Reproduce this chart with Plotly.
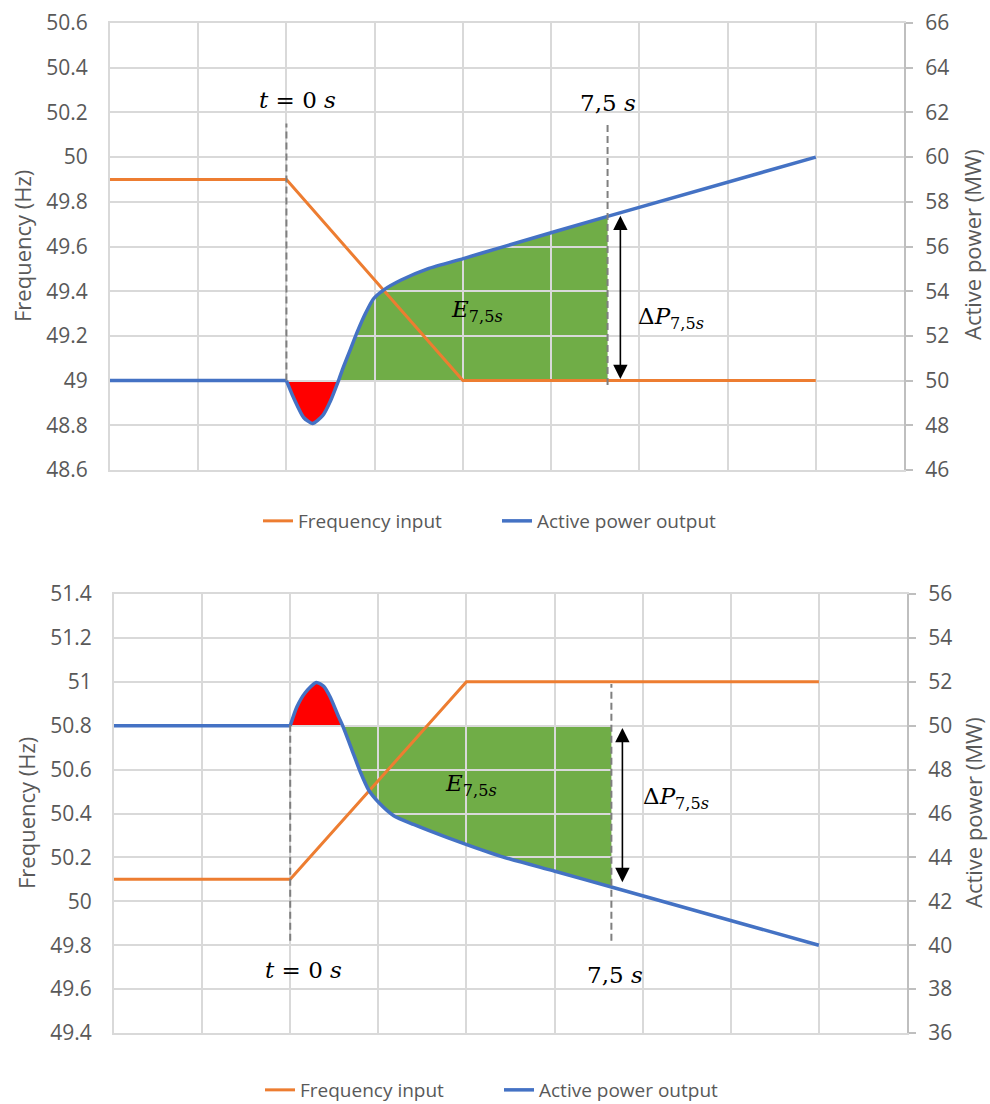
import plotly.graph_objects as go

# ---------------- data ----------------
# time in seconds (t = 0 at the disturbance), one grid interval = 2 s
freq_time = [-4, 0, 4, 12]
top_freq = [49.9, 49.9, 49.0, 49.0]          # Hz, under-frequency case
bot_freq = [50.1, 50.1, 51.0, 51.0]          # Hz, over-frequency case

top_time = [-4, 0, 0.16, 0.39, 0.59, 0.82, 1.0, 1.18, 1.29, 1.45, 1.61, 1.79, 1.97, 2.2, 2.6, 3.2, 4.01, 4.85, 7.28, 12]
top_power = [50, 50, 49.24, 48.35, 48.08, 48.43, 49.1, 50.0, 50.6, 51.4, 52.2, 53.0, 53.65, 54.05, 54.5, 55.0, 55.46, 55.95, 57.35, 60]

bot_time = [-4, 0, 0.15, 0.34, 0.59, 0.76, 0.91, 1.1, 1.19, 1.4, 1.59, 1.78, 2.01, 2.35, 2.8, 3.57, 4.78, 5.99, 7.29, 12]
bot_power = [50, 50, 50.85, 51.5, 51.97, 51.8, 51.3, 50.4, 50.0, 48.9, 47.9, 47.07, 46.5, 45.9, 45.5, 44.9, 44.05, 43.38, 42.65, 40]

base_power = 50.0
top_cross, top_mark = 1.18, 7.28
bot_cross, bot_mark = 1.19, 7.29

ORANGE = "#ED7D31"
BLUE = "#4472C4"
GREEN = "#70AD47"
RED = "#FF0000"
GRID = "#D9D9D9"
TXT = "#595959"
FONT = "Open Sans, Lato, sans-serif"
MATH = "DejaVu Serif, serif"


def area_path(ts, ps, t0, t1, base):
    pts = [(t, p) for t, p in zip(ts, ps) if t0 <= t <= t1]
    s = f"M {pts[0][0]},{base} " + " ".join(f"L {t},{p}" for t, p in pts)
    s += f" L {pts[-1][0]},{base} Z"
    return s


fig = go.Figure()


def add_power(ts, ps, xa, ya, leg):
    # flat pre-disturbance part (straight) + smoothed response
    fig.add_trace(go.Scatter(x=ts[:2], y=ps[:2], mode="lines", showlegend=False, hoverinfo="skip",
                             line=dict(color=BLUE, width=3.5), xaxis=xa, yaxis=ya, legend=leg))
    fig.add_trace(go.Scatter(x=ts[1:], y=ps[1:], name="Active power output", mode="lines",
                             line=dict(color=BLUE, width=3.5, shape="spline", smoothing=0.6),
                             xaxis=xa, yaxis=ya, legend=leg, legendrank=2))


add_power(top_time, top_power, "x", "y2", "legend")
fig.add_trace(go.Scatter(x=freq_time, y=top_freq, name="Frequency input", mode="lines",
                         line=dict(color=ORANGE, width=3), xaxis="x", yaxis="y",
                         legend="legend", legendrank=1))
add_power(bot_time, bot_power, "x2", "y4", "legend2")
fig.add_trace(go.Scatter(x=freq_time, y=bot_freq, name="Frequency input", mode="lines",
                         line=dict(color=ORANGE, width=3), xaxis="x2", yaxis="y3",
                         legend="legend2", legendrank=1))

shapes = [
    dict(type="path", xref="x", yref="y2", layer="below", line=dict(width=0), fillcolor=RED,
         path=area_path(top_time, top_power, 0, top_cross, base_power)),
    dict(type="path", xref="x", yref="y2", layer="below", line=dict(width=0), fillcolor=GREEN,
         path=area_path(top_time, top_power, top_cross, top_mark, base_power)),
    dict(type="path", xref="x2", yref="y4", layer="below", line=dict(width=0), fillcolor=RED,
         path=area_path(bot_time, bot_power, 0, bot_cross, base_power)),
    dict(type="path", xref="x2", yref="y4", layer="below", line=dict(width=0), fillcolor=GREEN,
         path=area_path(bot_time, bot_power, bot_cross, bot_mark, base_power)),
]
dash = dict(color="#7F7F7F", width=2, dash="7px,4px")
shapes += [
    dict(type="line", xref="x", yref="y", x0=0, x1=0, y0=49.0, y1=50.15, line=dash, layer="above"),
    dict(type="line", xref="x", yref="y", x0=top_mark, x1=top_mark, y0=48.98, y1=50.15, line=dash, layer="above"),
    dict(type="line", xref="x2", yref="y3", x0=0, x1=0, y0=49.82, y1=50.81, line=dash, layer="above"),
    dict(type="line", xref="x2", yref="y3", x0=bot_mark, x1=bot_mark, y0=49.82, y1=50.99, line=dash, layer="above"),
]

mf = dict(family=MATH, size=23, color="black")


def lab(xr, yr, x, y, text):
    return dict(xref=xr, yref=yr, x=x, y=y, text=text, showarrow=False, font=mf,
                xanchor="center", yanchor="middle")


annotations = [
    lab("x", "y", 0.25, 50.255, "<i>t</i> = 0 <i>s</i>"),
    lab("x", "y", 7.3, 50.24, "7,5 <i>s</i>"),
    lab("x", "y", 4.31, 49.31, "<i>E</i><sub>7,5<i>s</i></sub>"),
    lab("x", "y", 8.71, 49.28, "Δ<i>P</i><sub>7,5<i>s</i></sub>"),
    lab("x2", "y3", 0.3, 49.687, "<i>t</i> = 0 <i>s</i>"),
    lab("x2", "y3", 7.38, 49.664, "7,5 <i>s</i>"),
    lab("x2", "y3", 4.11, 50.53, "<i>E</i><sub>7,5<i>s</i></sub>"),
    lab("x2", "y3", 8.76, 50.47, "Δ<i>P</i><sub>7,5<i>s</i></sub>"),
    # double arrows
    dict(xref="x", yref="y2", axref="x", ayref="y2", x=7.57, y=57.38, ax=7.57, ay=50.0, text="",
         showarrow=True, arrowhead=2, arrowside="end+start", arrowsize=1.8, arrowwidth=1.6,
         arrowcolor="black", standoff=0, startstandoff=0),
    dict(xref="x2", yref="y4", axref="x2", ayref="y4", x=7.54, y=49.9, ax=7.54, ay=42.8, text="",
         showarrow=True, arrowhead=2, arrowside="end+start", arrowsize=1.8, arrowwidth=1.6,
         arrowcolor="black", standoff=0, startstandoff=0),
]
tf = dict(family=FONT, size=22, color=TXT)
for xpx, ypx, txt in [(22, 246, "Frequency (Hz)"), (972, 245, "Active power (MW)"),
                      (26, 813, "Frequency (Hz)"), (973, 813, "Active power (MW)")]:
    annotations.append(dict(xref="paper", yref="paper", x=xpx / 990, y=1 - ypx / 1104, text=txt,
                            textangle=-90, showarrow=False, font=tf,
                            xanchor="center", yanchor="middle"))

tickf = dict(family=FONT, size=21, color=TXT)
xcommon = dict(range=[-4, 14], tick0=-4, dtick=2, showticklabels=False, ticks="",
               showgrid=True, gridcolor=GRID, gridwidth=2, zeroline=False, automargin=False,
               showline=True, mirror=True, linecolor=GRID, linewidth=2)
yleft = dict(showgrid=True, gridcolor=GRID, gridwidth=2, zeroline=False, ticks="", automargin=False,
             showline=True, linecolor=GRID, linewidth=2, tickfont=tickf, ticklabelstandoff=16)
yright = dict(side="right", showgrid=False, zeroline=False, showline=True, linecolor="#BFBFBF",
              linewidth=2, ticks="outside", ticklen=7, tickwidth=2, tickcolor="#BFBFBF",
              tickfont=tickf, ticklabelstandoff=8, automargin=False)
legf = dict(family=FONT, size=19, color=TXT)

fig.update_layout(
    width=990, height=1104,
    margin=dict(l=0, r=0, t=0, b=0, autoexpand=False),
    paper_bgcolor="white", plot_bgcolor="white",
    xaxis=dict(domain=[110 / 990, 904 / 990], anchor="y", **xcommon),
    yaxis=dict(domain=[1 - 470 / 1104, 1 - 23 / 1104], anchor="x", range=[48.6, 50.6], tick0=48.6, dtick=0.2, **yleft),
    yaxis2=dict(overlaying="y", anchor="x", range=[46, 66], tick0=46, dtick=2, **yright),
    xaxis2=dict(domain=[114 / 990, 907 / 990], anchor="y3", **xcommon),
    yaxis3=dict(domain=[1 - 1033 / 1104, 1 - 594 / 1104], anchor="x2", range=[49.4, 51.4], tick0=49.4, dtick=0.2, **yleft),
    yaxis4=dict(overlaying="y3", anchor="x2", range=[36, 56], tick0=36, dtick=2, **yright),
    legend=dict(orientation="h", x=258 / 990, xanchor="left", y=1 - 521 / 1104, yanchor="middle",
                entrywidth=194, entrywidthmode="pixels",
                font=legf, bgcolor="rgba(0,0,0,0)"),
    legend2=dict(orientation="h", x=260 / 990, xanchor="left", y=1 - 1090 / 1104, yanchor="middle",
                 entrywidth=194, entrywidthmode="pixels",
                 font=legf, bgcolor="rgba(0,0,0,0)"),
    shapes=shapes,
    annotations=annotations,
    showlegend=True,
)

fig.write_html("out.html", config={"displayModeBar": False},
               post_script="document.body.style.margin='0';document.body.style.overflow='hidden';")
